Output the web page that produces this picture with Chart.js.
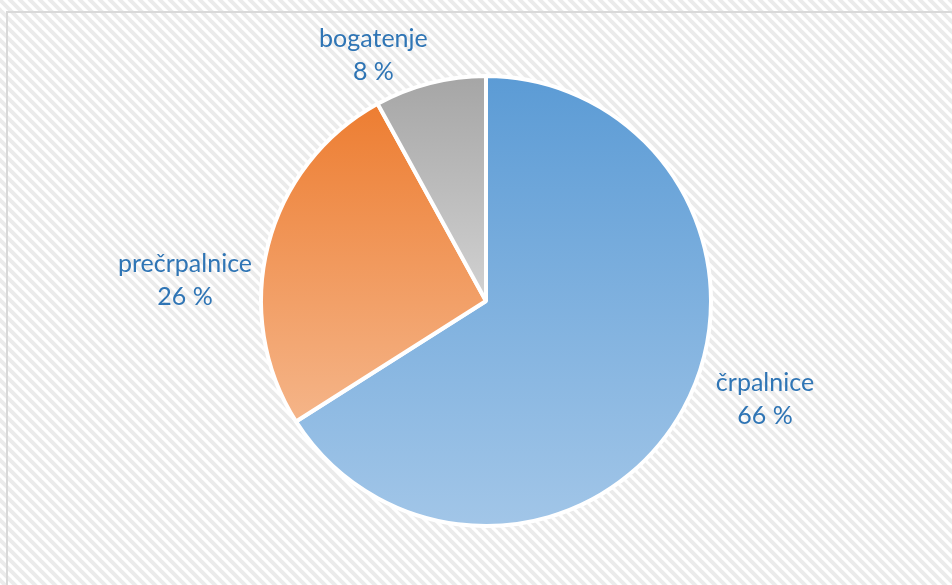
<!DOCTYPE html>
<html>
<head>
<meta charset="utf-8">
<script src="https://cdn.jsdelivr.net/npm/chart.js@4.4.1/dist/chart.umd.min.js"></script>
<style>
  html, body { margin: 0; padding: 0; background: #fff; }
  #wrap { width: 952px; height: 585px; }
</style>
</head>
<body>
<div id="wrap"><canvas id="myChart" width="952" height="585"></canvas></div>
<script>
// podatki
const labels = ['črpalnice', 'prečrpalnice', 'bogatenje'];
const values = [66, 26, 8];
const colorsTop = ['#5B9BD5', '#ED7D31', '#A5A5A5'];
const colorsBottom = ['#A2C6E8', '#F5B589', '#D2D2D2'];

const labelFont = '25px Lato';
const labelColor = '#2F75B5';
const lineH = 33;

// vertical extent of one slice (start at top, clockwise)
function sliceYRange(cy, r, i) {
    let total = values.reduce((a, b) => a + b, 0);
    let start = 0;
    for (let k = 0; k < i; k++) start += values[k];
    let a0 = start / total * 2 * Math.PI - Math.PI / 2;
    let a1 = (start + values[i]) / total * 2 * Math.PI - Math.PI / 2;
    let ymin = cy, ymax = cy;
    for (let s = 0; s <= 100; s++) {
        let a = a0 + (a1 - a0) * s / 100;
        let y = cy + r * Math.sin(a);
        if (y < ymin) ymin = y;
        if (y > ymax) ymax = y;
    }
    return [ymin, ymax];
}

function sliceColor(context) {
    const chart = context.chart;
    const area = chart.chartArea;
    const i = context.dataIndex;
    if (!area) return colorsTop[i];
    const cy = (area.top + area.bottom) / 2;
    const r = Math.min(area.width, area.height) / 2;
    const [y0, y1] = sliceYRange(cy, r, i);
    const g = chart.ctx.createLinearGradient(0, y0, 0, y1);
    g.addColorStop(0, colorsTop[i]);
    g.addColorStop(1, colorsBottom[i]);
    return g;
}

// hatched background + thin frame
const bgPlugin = {
    id: 'bgHatch',
    beforeDraw(chart) {
        const ctx = chart.ctx;
        const n = 10;
        const pc = document.createElement('canvas');
        pc.width = n; pc.height = n;
        const p = pc.getContext('2d');
        p.fillStyle = '#ffffff';
        p.fillRect(0, 0, n, n);
        p.strokeStyle = '#ebebeb';
        p.lineWidth = 4;
        for (let k = -1; k <= 1; k++) {
            p.beginPath();
            p.moveTo(k * n - 1, -1);
            p.lineTo(k * n + n + 1, n + 1);
            p.stroke();
        }
        ctx.save();
        ctx.fillStyle = ctx.createPattern(pc, 'repeat');
        ctx.fillRect(0, 0, chart.width, chart.height);
        ctx.strokeStyle = '#d9d9d9';
        ctx.lineWidth = 2;
        ctx.beginPath();
        ctx.moveTo(7, chart.height);
        ctx.lineTo(7, 12);
        ctx.lineTo(chart.width, 12);
        ctx.stroke();
        ctx.restore();
    }
};

// labels outside the slices: name and percent
const labelPlugin = {
    id: 'outLabels',
    afterDatasetsDraw(chart) {
        const ctx = chart.ctx;
        const meta = chart.getDatasetMeta(0);
        const total = values.reduce((a, b) => a + b, 0);
        ctx.save();
        ctx.font = labelFont;
        ctx.fillStyle = labelColor;
        ctx.textAlign = 'center';
        ctx.textBaseline = 'middle';
        meta.data.forEach((arc, i) => {
            const pr = arc.getProps(['x', 'y', 'startAngle', 'endAngle', 'outerRadius'], true);
            const lines = [labels[i], Math.round(values[i] / total * 100) + ' %'];
            const w = Math.max(...lines.map(t => ctx.measureText(t).width));
            const h = lines.length * lineH;
            const a = (pr.startAngle + pr.endAngle) / 2 - 10 * Math.PI / 180;
            const c = Math.cos(a), s = Math.sin(a);
            // labels on the right side sit a bit further out
            const gap = c > 0.5 ? 22 : 10;
            const d = pr.outerRadius + gap + Math.sqrt(Math.pow(c * w / 2, 2) + Math.pow(s * h / 2, 2));
            const x = pr.x + c * d;
            const y = pr.y + s * d + 3;
            lines.forEach((t, j) => {
                ctx.fillText(t, x, y - h / 2 + lineH / 2 + j * lineH);
            });
        });
        ctx.restore();
    }
};

const ctx = document.getElementById('myChart').getContext('2d');
const myChart = new Chart(ctx, {
    type: 'pie',
    data: {
        labels: labels,
        datasets: [{
            data: values,
            backgroundColor: sliceColor,
            borderColor: '#ffffff',
            borderWidth: 4
        }]
    },
    options: {
        responsive: false,
        animation: false,
        layout: { padding: { top: 74, bottom: 57, left: 20, right: 0 } },
        plugins: {
            legend: { display: false },
            tooltip: { enabled: false }
        }
    },
    plugins: [bgPlugin, labelPlugin]
});
</script>
</body>
</html>
